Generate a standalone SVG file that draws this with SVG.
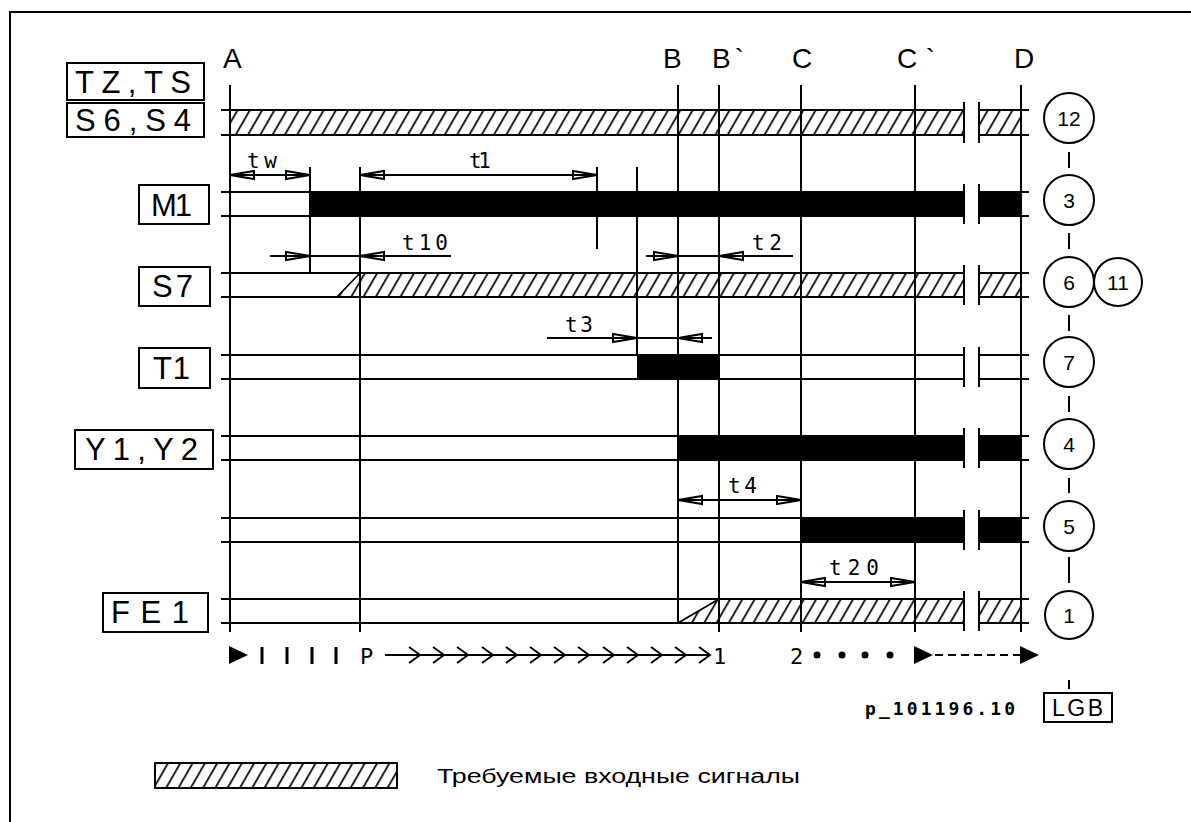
<svg xmlns="http://www.w3.org/2000/svg" width="1191" height="822" viewBox="0 0 1191 822">
<style>
.ln{stroke:#000;stroke-width:2;fill:none}
.thin{stroke:#000;stroke-width:1.8;fill:none}
.tick{stroke:#000;stroke-width:3;fill:none}
.box{stroke:#000;stroke-width:2;fill:#fff}
.lbl{font-family:"Liberation Sans",Arial,sans-serif;font-size:31px;fill:#000}
.top{font-family:"Liberation Sans",Arial,sans-serif;font-size:28px;fill:#000}
.dim{font-family:"DejaVu Sans Mono","Liberation Mono",monospace;font-size:21px;fill:#000}
.num{font-family:"Liberation Sans",Arial,sans-serif;font-size:21px;fill:#000;text-anchor:middle}
.hat{fill:url(#hatch)}
.blk{fill:#000}
.ah{fill:none;stroke:#000;stroke-width:2}
.cir{fill:#fff;stroke:#000;stroke-width:2}
</style>
<defs>
<pattern id="hatch" patternUnits="userSpaceOnUse" width="12.3" height="10" patternTransform="skewX(-30)">
<line x1="6" y1="-1" x2="6" y2="11" stroke="#000" stroke-width="2"/>
</pattern>
<path id="ahR" class="ah" d="M0,0 L-24,-4 L-24,4 Z"/>
<path id="ahL" class="ah" d="M0,0 L24,-4 L24,4 Z"/>
</defs>
<rect width="1191" height="822" fill="#fff"/>
<g id="frame">
<path class="ln" d="M10,822 V12 H1191"/>
</g>

<g id="signals">
<g id="sig-S6S4">
<rect class="hat" x="230" y="110" width="734" height="25"/>
<rect class="hat" x="979" y="110" width="42" height="25"/>
<path class="ln" d="M221,110H964M221,135H964M979,110H1029M979,135H1029M964,102V143M979,102V143"/>
</g>
<g id="sig-M1">
<rect class="blk" x="310" y="192" width="654" height="24"/>
<rect class="blk" x="979" y="192" width="42" height="24"/>
<path class="ln" d="M221,192H964M221,216H964M979,192H1029M979,216H1029M964,184V224M979,184V224"/>
</g>
<g id="sig-S7">
<polygon class="hat" points="337,297 360,273 964,273 964,297"/>
<rect class="hat" x="979" y="273" width="42" height="24"/>
<path class="ln" d="M221,273H964M221,297H964M979,273H1029M979,297H1029M964,265V305M979,265V305"/>
<path class="thin" d="M337,297L360,273"/>
</g>
<g id="sig-T1">
<rect class="blk" x="637" y="355" width="82" height="24"/>
<path class="ln" d="M221,355H964M221,379H964M979,355H1029M979,379H1029M964,347V387M979,347V387"/>
</g>
<g id="sig-Y1Y2">
<rect class="blk" x="678" y="436" width="286" height="24"/>
<rect class="blk" x="979" y="436" width="42" height="24"/>
<path class="ln" d="M221,436H964M221,460H964M979,436H1029M979,460H1029M964,428V468M979,428V468"/>
</g>
<g id="sig-5">
<rect class="blk" x="801" y="518" width="163" height="24"/>
<rect class="blk" x="979" y="518" width="42" height="24"/>
<path class="ln" d="M221,518H964M221,542H964M979,518H1029M979,542H1029M964,510V550M979,510V550"/>
</g>
<g id="sig-FE1">
<polygon class="hat" points="678,623 719,599 964,599 964,623"/>
<rect class="hat" x="979" y="599" width="42" height="24"/>
<path class="ln" d="M221,599H964M221,623H964M979,599H1029M979,623H1029M964,591V631M979,591V631"/>
<path class="thin" d="M678,623L719,599"/>
</g>
</g>

<g id="gridlines">
<path class="ln" d="M230,85V632M360,167V632M678,85V623M719,85V632M801,85V632M915,85V632M1021,85V632"/>
<path class="ln" d="M310,167V273M597,167V249M637,167V355"/>
</g>

<g id="toplabels">
<text class="top" x="223" y="68">A</text>
<text class="top" x="663" y="68">B</text>
<text class="top" x="712" y="68" textLength="32" lengthAdjust="spacing">B`</text>
<text class="top" x="792" y="68">C</text>
<text class="top" x="897" y="68" textLength="38" lengthAdjust="spacing">C`</text>
<text class="top" x="1014" y="68">D</text>
</g>

<g id="label-TZTS"><rect class="box" x="67" y="63" width="137" height="37"/><text class="lbl" x="75" y="93" textLength="116" lengthAdjust="spacing">TZ,TS</text></g>
<g id="label-S6S4"><rect class="box" x="67" y="103" width="137" height="34"/><text class="lbl" x="75" y="131" textLength="116" lengthAdjust="spacing">S6,S4</text></g>
<g id="label-M1"><rect class="box" x="139" y="185" width="70" height="39"/><text class="lbl" x="151" y="216" textLength="41" lengthAdjust="spacing">M1</text></g>
<g id="label-S7"><rect class="box" x="139" y="267" width="71" height="39"/><text class="lbl" x="152" y="297" textLength="41" lengthAdjust="spacing">S7</text></g>
<g id="label-T1"><rect class="box" x="139" y="348" width="71" height="40"/><text class="lbl" x="153" y="379" textLength="37" lengthAdjust="spacing">T1</text></g>
<g id="label-Y1Y2"><rect class="box" x="75" y="430" width="138" height="39"/><text class="lbl" x="85" y="460" textLength="113" lengthAdjust="spacing">Y1,Y2</text></g>
<g id="label-FE1"><rect class="box" x="103" y="593" width="105" height="39"/><text class="lbl" x="111" y="623" textLength="78" lengthAdjust="spacing">FE1</text></g>

<g id="connectors">
<path class="ln" d="M1069,152V168M1069,233V249M1069,315V331M1069,396V412M1069,478V493M1069,557V583M1069,680V689"/>
</g>

<g id="circle-12"><circle class="cir" cx="1069" cy="118" r="25"/><text class="num" x="1069" y="126">12</text></g>
<g id="circle-3"><circle class="cir" cx="1069" cy="200" r="25"/><text class="num" x="1069" y="208">3</text></g>
<g id="circle-6"><circle class="cir" cx="1069" cy="282" r="25"/><text class="num" x="1069" y="290">6</text></g>
<g id="circle-11"><circle class="cir" cx="1118" cy="282" r="24"/><text class="num" x="1118" y="290">11</text></g>
<g id="circle-7"><circle class="cir" cx="1069" cy="362" r="25"/><text class="num" x="1069" y="370">7</text></g>
<g id="circle-4"><circle class="cir" cx="1069" cy="444" r="25"/><text class="num" x="1069" y="452">4</text></g>
<g id="circle-5"><circle class="cir" cx="1069" cy="526" r="25"/><text class="num" x="1069" y="534">5</text></g>
<g id="circle-1"><circle class="cir" cx="1069" cy="615" r="24"/><text class="num" x="1069" y="623">1</text></g>
<g id="label-LGB"><rect class="box" x="1044" y="693" width="68" height="29"/><text class="lbl" x="1052" y="716" style="font-size:23px" textLength="51" lengthAdjust="spacing">LGB</text></g>

<g id="dimensions">
<path class="thin" d="M230,175H310M360,175H597M270,256H451M646,256H793M547,338H712M678,500H801M801,582H915"/>
<use href="#ahL" x="230" y="175"/><use href="#ahR" x="310" y="175"/>
<use href="#ahL" x="360" y="175"/><use href="#ahR" x="597" y="175"/>
<use href="#ahR" x="310" y="256"/><use href="#ahL" x="360" y="256"/>
<use href="#ahR" x="678" y="256"/><use href="#ahL" x="719" y="256"/>
<use href="#ahR" x="637" y="338"/><use href="#ahL" x="678" y="338"/>
<use href="#ahL" x="678" y="500"/><use href="#ahR" x="801" y="500"/>
<use href="#ahL" x="801" y="582"/><use href="#ahR" x="915" y="582"/>
<text class="dim" x="247" y="168" textLength="30" lengthAdjust="spacing">tw</text>
<text class="dim" x="469" y="168" textLength="22" lengthAdjust="spacing">t1</text>
<text class="dim" x="402" y="250" textLength="46" lengthAdjust="spacing">t10</text>
<text class="dim" x="752" y="250" textLength="30" lengthAdjust="spacing">t2</text>
<text class="dim" x="565" y="332" textLength="28" lengthAdjust="spacing">t3</text>
<text class="dim" x="728" y="493" textLength="29" lengthAdjust="spacing">t4</text>
<text class="dim" x="829" y="575" textLength="50" lengthAdjust="spacing">t20</text>
</g>

<g id="timeline">
<polygon points="229,646 248,655 229,664" fill="#000"/>
<path class="tick" d="M262,647V664M287,647V664M312,647V664M336,647V664"/>
<text class="dim" x="360" y="664" style="font-size:22px">P</text>
<path class="ln" d="M385,655H710"/>
<path class="ln" d="M409,647L420,655L409,663M433,647L444,655L433,663M457,647L468,655L457,663M482,647L493,655L482,663M506,647L517,655L506,663M530,647L541,655L530,663M554,647L565,655L554,663M578,647L589,655L578,663M603,647L614,655L603,663M627,647L638,655L627,663M651,647L662,655L651,663M675,647L686,655L675,663M699,647L710,655L699,663"/>
<text class="dim" x="713" y="664" style="font-size:22px">1</text>
<text class="dim" x="790" y="664" style="font-size:22px">2</text>
<circle cx="817" cy="655" r="3.5"/><circle cx="842" cy="655" r="3.5"/><circle cx="865" cy="655" r="3.5"/><circle cx="890" cy="655" r="3.5"/>
<polygon points="914,646 933,655 914,664" fill="#000"/>
<path class="ln" d="M935,655H1020" stroke-dasharray="8,5"/>
<polygon points="1020,646 1039,655 1020,664" fill="#000"/>
</g>

<text class="dim" x="865" y="715" style="font-size:18px;font-weight:bold" textLength="150" lengthAdjust="spacing">p_101196.10</text>

<g id="legend">
<rect class="hat" x="155" y="763" width="242" height="25"/>
<rect class="ln" x="155" y="763" width="242" height="25"/>
<text x="437" y="783" style="font-family:'Liberation Sans',Arial,sans-serif;font-size:20px" textLength="363" lengthAdjust="spacingAndGlyphs">Требуемые входные сигналы</text>
</g>
</svg>
